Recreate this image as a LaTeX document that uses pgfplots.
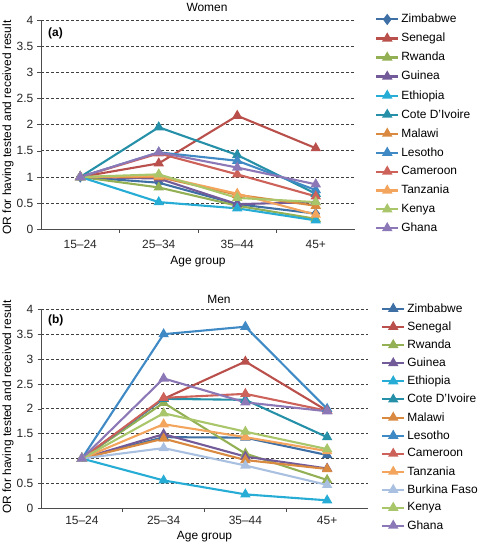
\documentclass[border=0pt]{standalone}
\usepackage{pgfplots}
\pgfplotsset{compat=1.18}
\usepackage{fontspec}
\setmainfont{Liberation Sans}

\definecolor{cZim}{HTML}{3E6FA5}
\definecolor{cSen}{HTML}{B9504C}
\definecolor{cRwa}{HTML}{93B154}
\definecolor{cGui}{HTML}{735A98}
\definecolor{cEth}{HTML}{27ADD5}
\definecolor{cCot}{HTML}{2590A8}
\definecolor{cMal}{HTML}{D98A40}
\definecolor{cLes}{HTML}{3F89C5}
\definecolor{cCam}{HTML}{CC625A}
\definecolor{cTan}{HTML}{F3A55E}
\definecolor{cBur}{HTML}{A9C0E0}
\definecolor{cKen}{HTML}{A9C66A}
\definecolor{cGha}{HTML}{8C78B6}
\definecolor{gridc}{HTML}{404040}

\pgfplotsset{
  panel/.style={
    scale only axis,
    xmin=-0.5, xmax=3.5, ymin=0, ymax=4,
    axis x line=bottom, axis y line=left,
    axis line style={-, draw=black!70, line width=0.8bp},
    xtick={0,1,2,3},
    xticklabels={15--24,25--34,35--44,45+},
    major x tick style={draw=none},
    minor xtick={0.5,1.5,2.5},
    minor tick length=3.5bp,
    minor x tick style={draw=black!70, line width=0.6bp},
    ytick={0,0.5,...,4},
    yticklabels={0,0.5,1,1.5,2,2.5,3,3.5,4},
    major tick length=3.5bp,
    tick align=outside,
    y tick style={draw=black!70, line width=0.6bp},
    ymajorgrids,
    grid style={draw=gridc, dash pattern=on 3bp off 2bp, line width=0.7bp},
    tick label style={font=\fontsize{12}{14}\selectfont, text=black!85},
    /pgf/number format/assume math mode=true,
    xlabel={Age group},
    label style={font=\fontsize{12}{14}\selectfont},
    legend cell align=left,
    legend style={draw=none, fill=none, font=\fontsize{12}{14}\selectfont, inner sep=0pt},
    legend image code/.code={\draw[mark repeat=2,mark phase=2,##1] plot coordinates {(0bp,0bp) (11bp,0bp) (22bp,0bp)};},
    every axis plot/.append style={line width=2.1bp, mark=triangle*, mark size=4bp, mark options={solid}},
    clip=false,
  }
}

\begin{document}
\fontsize{12}{14}\selectfont
\begin{tikzpicture}

% ---------------- Women ----------------
\begin{axis}[panel,
  at={(41bp,314.7bp)}, anchor=south west,
  width=314bp, height=209.3bp,
  every axis x label/.style={at={(rel axis cs:0.5,0)}, anchor=center, yshift=-32.4bp},
  xticklabel style={yshift=-3bp},
  legend style={at={(rel axis cs:1,1)}, anchor=north west, xshift=20bp, yshift=8bp, row sep=4.6bp},
]
\addplot[color=cZim, mark=diamond*] coordinates {(0,1) (1,0.89) (2,0.48) (3,0.30)};
\addlegendentry{Zimbabwe}
\addplot[color=cSen] coordinates {(0,1) (1,1.26) (2,2.17) (3,1.55)};
\addlegendentry{Senegal}
\addplot[color=cRwa] coordinates {(0,1) (1,0.80) (2,0.45) (3,0.20)};
\addlegendentry{Rwanda}
\addplot[color=cGui] coordinates {(0,1) (1,0.97) (2,0.48) (3,0.52)};
\addlegendentry{Guinea}
\addplot[color=cEth] coordinates {(0,1) (1,0.52) (2,0.40) (3,0.17)};
\addlegendentry{Ethiopia}
\addplot[color=cCot] coordinates {(0,1) (1,1.95) (2,1.42) (3,0.68)};
\addlegendentry{Cote D'Ivoire}
\addplot[color=cMal] coordinates {(0,1) (1,1.00) (2,0.66) (3,0.45)};
\addlegendentry{Malawi}
\addplot[color=cLes] coordinates {(0,1) (1,1.47) (2,1.31) (3,0.75)};
\addlegendentry{Lesotho}
\addplot[color=cCam] coordinates {(0,1) (1,1.45) (2,1.05) (3,0.63)};
\addlegendentry{Cameroon}
\addplot[color=cTan] coordinates {(0,1) (1,1.02) (2,0.68) (3,0.28)};
\addlegendentry{Tanzania}
\addplot[color=cKen] coordinates {(0,1) (1,1.05) (2,0.60) (3,0.52)};
\addlegendentry{Kenya}
\addplot[color=cGha] coordinates {(0,1) (1,1.47) (2,1.18) (3,0.86)};
\addlegendentry{Ghana}
\end{axis}
\node at (207bp,537bp) {Women};
\node[anchor=west, font=\fontsize{12}{14}\selectfont\bfseries] at (44bp,511bp) {(a)};
\node[rotate=90] at (8bp,416.5bp) {OR for having tested and received result};

% ---------------- Men ----------------
\begin{axis}[panel,
  at={(41bp,35.7bp)}, anchor=south west,
  width=327bp, height=199bp,
  every axis x label/.style={at={(rel axis cs:0.5,0)}, anchor=center, yshift=-28.5bp},
  legend style={at={(rel axis cs:1,1)}, anchor=north west, xshift=13bp, yshift=8bp, row sep=3.7bp},
]
\addplot[color=cZim] coordinates {(0,1) (1,1.43) (2,1.42) (3,1.07)};
\addlegendentry{Zimbabwe}
\addplot[color=cSen] coordinates {(0,1) (1,2.20) (2,2.95) (3,1.96)};
\addlegendentry{Senegal}
\addplot[color=cRwa] coordinates {(0,1) (1,2.12) (2,1.10) (3,0.57)};
\addlegendentry{Rwanda}
\addplot[color=cGui] coordinates {(0,1) (1,1.49) (2,1.04) (3,0.80)};
\addlegendentry{Guinea}
\addplot[color=cEth] coordinates {(0,1) (1,0.56) (2,0.28) (3,0.16)};
\addlegendentry{Ethiopia}
\addplot[color=cCot] coordinates {(0,1) (1,2.20) (2,2.18) (3,1.43)};
\addlegendentry{Cote D'Ivoire}
\addplot[color=cMal] coordinates {(0,1) (1,1.40) (2,0.97) (3,0.79)};
\addlegendentry{Malawi}
\addplot[color=cLes] coordinates {(0,1) (1,3.50) (2,3.65) (3,2.00)};
\addlegendentry{Lesotho}
\addplot[color=cCam] coordinates {(0,1) (1,2.22) (2,2.30) (3,1.96)};
\addlegendentry{Cameroon}
\addplot[color=cTan] coordinates {(0,1) (1,1.69) (2,1.43) (3,1.15)};
\addlegendentry{Tanzania}
\addplot[color=cBur] coordinates {(0,1) (1,1.21) (2,0.86) (3,0.47)};
\addlegendentry{Burkina Faso}
\addplot[color=cKen] coordinates {(0,1) (1,1.91) (2,1.54) (3,1.19)};
\addlegendentry{Kenya}
\addplot[color=cGha] coordinates {(0,1) (1,2.61) (2,2.13) (3,1.95)};
\addlegendentry{Ghana}
\end{axis}
\node at (219bp,245bp) {Men};
\node[anchor=west, font=\fontsize{12}{14}\selectfont\bfseries] at (44bp,224bp) {(b)};
\node[rotate=90] at (8bp,137bp) {OR for having tested and received result};

\pgfresetboundingbox
\path[use as bounding box] (0bp,0bp) rectangle (480bp,544bp);
\end{tikzpicture}
\end{document}
